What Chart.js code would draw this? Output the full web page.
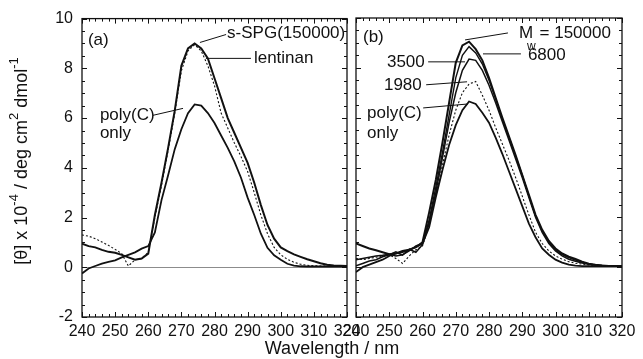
<!DOCTYPE html>
<html>
<head>
<meta charset="utf-8">
<script src="https://cdn.jsdelivr.net/npm/chart.js@4.4.1/dist/chart.umd.min.js"></script>
<style>
  body { margin: 0; background: #fff; }
  #wrap { position: relative; width: 643px; height: 359px; }
  #wrap canvas { position: absolute; left: 0; top: 0; }
</style>
</head>
<body>
<div id="wrap">
  <canvas id="panel-a" width="643" height="359"></canvas>
  <canvas id="panel-b" width="643" height="359"></canvas>
</div>
<script>
// wavelength grid (nm) shared by every curve
const wl = [240,242,244,246,248,250,252,254,256,258,260,262,264,266,268,270,272,274,276,278,280,
            282,284,286,288,290,292,294,296,298,300,302,304,306,308,310,312,314,316,318,320];

// panel (a)
const sSpgA = [0.95,0.85,0.8,0.7,0.62,0.58,0.5,0.4,0.3,0.35,0.55,
               2.1,3.4,4.8,6.3,8.1,8.8,9.0,8.8,8.4,7.6,
               6.8,6.0,5.4,4.8,4.2,3.4,2.5,1.7,1.15,0.8,
               0.65,0.52,0.42,0.32,0.24,0.16,0.1,0.07,0.06,0.05];
const lentinanA = [1.3,1.25,1.15,1.02,0.88,0.72,0.55,0.05,0.3,0.35,0.6,
                   2.0,3.3,4.7,6.2,7.9,8.7,8.95,8.7,8.1,7.3,
                   6.2,5.6,5.0,4.45,3.85,3.0,2.1,1.35,0.8,0.5,
                   0.32,0.2,0.12,0.08,0.06,0.05,0.05,0.05,0.05,0.05];
const polyCA = [-0.25,-0.05,0.05,0.15,0.22,0.28,0.4,0.5,0.6,0.75,0.85,
                1.4,2.7,3.7,4.75,5.55,6.2,6.55,6.5,6.2,5.8,
                5.3,4.8,4.25,3.6,2.8,2.1,1.35,0.78,0.48,0.3,
                0.14,0.07,0.04,0.03,0.03,0.03,0.03,0.03,0.03,0.03];

// panel (b)
const mw150000 = [0.95,0.85,0.75,0.68,0.6,0.52,0.55,0.65,0.7,0.8,1.0,
                  2.2,3.5,5.0,6.6,8.2,8.9,9.05,8.75,8.3,7.6,
                  6.8,6.0,5.25,4.5,3.7,2.9,2.1,1.5,1.05,0.75,
                  0.55,0.42,0.33,0.22,0.14,0.1,0.07,0.05,0.05,0.05];
const mw6800 = [0.3,0.35,0.4,0.45,0.48,0.52,0.45,0.5,0.65,0.85,0.95,
                1.9,3.2,4.6,6.1,7.6,8.5,8.85,8.6,8.15,7.5,
                6.75,5.95,5.2,4.45,3.7,2.85,2.05,1.45,1.0,0.7,
                0.5,0.38,0.28,0.2,0.13,0.09,0.07,0.05,0.05,0.05];
const mw3500 = [0.05,0.15,0.25,0.3,0.42,0.5,0.62,0.48,0.72,0.6,0.9,
                1.8,3.0,4.4,5.8,7.0,7.9,8.35,8.3,7.9,7.3,
                6.6,5.85,5.1,4.35,3.6,2.8,2.0,1.4,0.95,0.65,
                0.45,0.32,0.24,0.17,0.12,0.09,0.06,0.05,0.05,0.05];
const mw1980 = [0.35,0.3,0.35,0.4,0.45,0.5,0.35,0.15,0.45,0.7,0.85,
                1.7,2.9,4.1,5.3,6.3,7.0,7.35,7.45,6.9,6.3,
                5.6,4.95,4.3,3.6,2.85,2.1,1.4,0.95,0.65,0.45,
                0.32,0.22,0.16,0.12,0.09,0.07,0.06,0.05,0.05,0.05];
const polyCB = [-0.2,0.0,0.1,0.2,0.3,0.45,0.55,0.6,0.7,0.8,0.95,
                1.6,2.8,3.9,4.9,5.7,6.3,6.65,6.55,6.2,5.8,
                5.2,4.55,3.85,3.15,2.45,1.75,1.2,0.75,0.5,0.3,
                0.18,0.1,0.06,0.04,0.04,0.04,0.04,0.04,0.04,0.04];

// axis ticks
const xTicks = [240,250,260,270,280,290,300,310,320];
const yTicks = [-2,0,2,4,6,8,10];

const FONT = "'Liberation Sans', Arial, sans-serif";
const pts = vals => wl.map((x, i) => ({x, y: vals[i]}));

function line(vals, width, dash) {
    return {
        data: pts(vals),
        borderColor: '#111',
        borderWidth: width,
        borderDash: dash || [],
        pointRadius: 0,
        tension: 0,
        fill: false
    };
}

// draw text made of parts, some raised
function drawParts(ctx, parts, x, y, size, align) {
    const widths = parts.map(p => {
        ctx.font = (p.sup ? Math.round(size * 0.7) : size) + 'px ' + FONT;
        return ctx.measureText(p.t).width;
    });
    const total = widths.reduce((a, b) => a + b, 0);
    let cx = align === 'center' ? x - total / 2 : align === 'right' ? x - total : x;
    parts.forEach((p, i) => {
        ctx.font = (p.sup ? Math.round(size * 0.7) : size) + 'px ' + FONT;
        ctx.fillText(p.t, cx, y + (p.sup ? -size * 0.4 : 0));
        cx += widths[i];
    });
}

const frame = {
    id: 'frame',
    beforeDatasetsDraw(chart) {
        const {ctx, chartArea: a, scales: {y}} = chart;
        ctx.save();
        ctx.strokeStyle = '#8c8c8c';
        ctx.lineWidth = 1;
        const y0 = Math.round(y.getPixelForValue(0)) + 0.5;
        ctx.beginPath();
        ctx.moveTo(a.left, y0);
        ctx.lineTo(a.right, y0);
        ctx.stroke();
        ctx.restore();
    },
    afterDatasetsDraw(chart) {
        const {ctx, chartArea: a, scales: {x, y}} = chart;
        ctx.save();
        ctx.strokeStyle = '#111';
        ctx.lineWidth = 1.3;
        ctx.strokeRect(a.left, a.top, a.right - a.left, a.bottom - a.top);
        ctx.lineWidth = 1;
        ctx.beginPath();
        for (let v = 240; v <= 320; v += 2) {
            const px = Math.round(x.getPixelForValue(v)) + 0.5;
            const len = v % 10 === 0 ? 5 : 3;
            ctx.moveTo(px, a.bottom); ctx.lineTo(px, a.bottom - len);
            ctx.moveTo(px, a.top); ctx.lineTo(px, a.top + len);
        }
        for (let v = -2; v <= 10; v += 0.5) {
            const py = Math.round(y.getPixelForValue(v)) + 0.5;
            const len = v % 2 === 0 ? 5 : 3;
            ctx.moveTo(a.left, py); ctx.lineTo(a.left + len, py);
            ctx.moveTo(a.right, py); ctx.lineTo(a.right - len, py);
        }
        ctx.stroke();
        ctx.restore();
    }
};

const notes = {
    id: 'notes',
    afterDraw(chart, args, opts) {
        const {ctx, scales: {x, y}} = chart;
        ctx.save();
        ctx.strokeStyle = '#111';
        ctx.lineWidth = 1;
        ctx.beginPath();
        (opts.leaders || []).forEach(l => {
            ctx.moveTo(x.getPixelForValue(l[0]), y.getPixelForValue(l[1]));
            ctx.lineTo(x.getPixelForValue(l[2]), y.getPixelForValue(l[3]));
        });
        ctx.stroke();
        ctx.fillStyle = '#111';
        ctx.textBaseline = 'middle';
        (opts.labels || []).forEach(l => {
            drawParts(ctx, [{t: l.text}], x.getPixelForValue(l.x), y.getPixelForValue(l.y), l.size || 17, 'left');
        });
        if (opts.titles) {
            // y axis title, rotated
            ctx.save();
            ctx.translate(22, 161);
            ctx.rotate(-Math.PI / 2);
            drawParts(ctx, [
                {t: '[θ] x 10'}, {t: '-4', sup: true}, {t: ' / deg cm'}, {t: '2', sup: true},
                {t: ' dmol'}, {t: '-1', sup: true}
            ], 0, 0, 18, 'center');
            ctx.restore();
            drawParts(ctx, [{t: 'Wavelength / nm'}], 332, 349, 18, 'center');
        }
        ctx.restore();
    }
};

function scales(showY, yWidth) {
    return {
        x: {
            type: 'linear', min: 240, max: 320,
            afterBuildTicks: s => { s.ticks = xTicks.map(v => ({value: v})); },
            afterFit: s => { s.height = 42; },
            grid: {display: false, drawTicks: false}, border: {display: false},
            ticks: {color: '#111', font: {family: FONT, size: 16}, padding: 5, autoSkip: false, maxRotation: 0}
        },
        y: {
            min: -2, max: 10,
            afterBuildTicks: s => { s.ticks = yTicks.map(v => ({value: v})); },
            afterFit: s => { s.width = yWidth; },
            grid: {display: false, drawTicks: false}, border: {display: false},
            ticks: {display: showY, color: '#111', font: {family: FONT, size: 16}, padding: 9}
        }
    };
}

new Chart(document.getElementById('panel-a'), {
    type: 'line',
    data: {datasets: [line(lentinanA, 1.1, [2, 2]), line(polyCA, 1.8), line(sSpgA, 2)]},
    options: {
        responsive: false, animation: false, devicePixelRatio: 1,
        layout: {padding: {top: 18, right: 296, left: 0, bottom: 0}},
        scales: scales(true, 82),
        plugins: {
            legend: {display: false}, tooltip: {enabled: false},
            notes: {
                titles: true,
                labels: [
                    {text: '(a)', x: 241.8, y: 9.12},
                    {text: 's-SPG(150000)', x: 283.8, y: 9.4},
                    {text: 'lentinan', x: 291.9, y: 8.4},
                    {text: 'poly(C)', x: 245.4, y: 6.11},
                    {text: 'only', x: 245.4, y: 5.39}
                ],
                leaders: [
                    [275.6, 9.04, 283.5, 9.36],
                    [277.4, 8.4, 291.0, 8.4],
                    [261.4, 6.11, 270.5, 6.39]
                ]
            }
        }
    },
    plugins: [frame, notes]
});

new Chart(document.getElementById('panel-b'), {
    type: 'line',
    data: {datasets: [line(mw1980, 1.1, [2, 2]), line(polyCB, 1.8), line(mw3500, 1.5),
                      line(mw6800, 1.4), line(mw150000, 2)]},
    options: {
        responsive: false, animation: false, devicePixelRatio: 1,
        layout: {padding: {top: 18, right: 21, left: 0, bottom: 0}},
        scales: scales(false, 356),
        plugins: {
            legend: {display: false}, tooltip: {enabled: false},
            notes: {
                labels: [
                    {text: '(b)', x: 242.1, y: 9.24},
                    {text: 'M', x: 289.0, y: 9.4},
                    {text: 'w', x: 291.4, y: 8.84, size: 12},
                    {text: '= 150000', x: 295.2, y: 9.4},
                    {text: '6800', x: 291.7, y: 8.52},
                    {text: '3500', x: 249.3, y: 8.24},
                    {text: '1980', x: 248.4, y: 7.28},
                    {text: 'poly(C)', x: 243.3, y: 6.19},
                    {text: 'only', x: 243.3, y: 5.39}
                ],
                leaders: [
                    [272.8, 9.12, 285.7, 9.4],
                    [278.2, 8.56, 289.6, 8.56],
                    [261.7, 8.24, 272.8, 8.24],
                    [261.1, 7.32, 273.4, 7.44],
                    [260.2, 6.39, 273.7, 6.55]
                ]
            }
        }
    },
    plugins: [frame, notes]
});
</script>
</body>
</html>
